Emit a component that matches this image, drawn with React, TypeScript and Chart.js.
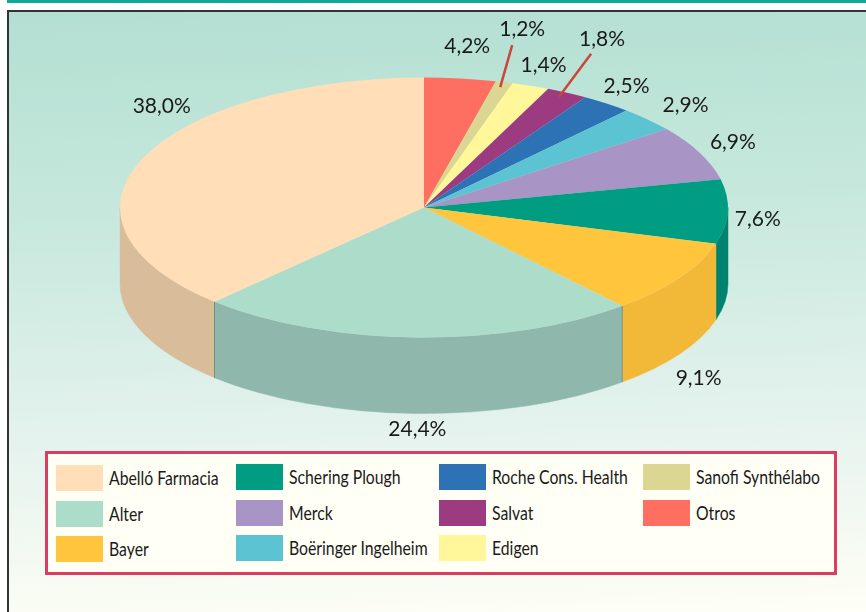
import React, { useEffect, useRef } from "react";
import { Chart, registerables } from "chart.js";

Chart.register(...registerables);

// Clockwise from 12 o'clock, as drawn in the reference.
const sliceNames = ["Otros", "Sanofi Synthélabo", "Edigen", "Salvat", "Roche Cons. Health", "Boëringer Ingelheim", "Merck", "Schering Plough", "Bayer", "Alter", "Abelló Farmacia"];
// Printed labels.
const percentLabels = ["4,2%", "1,2%", "1,4%", "1,8%", "2,5%", "2,9%", "6,9%", "7,6%", "9,1%", "24,4%", "38,0%"];
// Angular shares as actually drawn in the reference (it deviates slightly from the printed labels).
const drawnShares = [3.8, 0.9, 2.0, 2.2, 2.7, 3.1, 6.8, 8.0, 9.2, 23.4, 37.9];
const topColors = ["#FF6F61", "#DBD793", "#FFF79A", "#9D3B80", "#2E72B6", "#5CC3D3", "#A994C6", "#009D82", "#FFC53D", "#ACDCCA", "#FFDEB8"];
const sideColors = ["#D9584D", "#BDB97C", "#DDD584", "#7F2F68", "#255C93", "#4BA0AE", "#8B79A3", "#00836E", "#F2B838", "#8FB7AB", "#D9BD9B"];
// Label offset from the rim point at the middle of each slice.
const labelOffsetX = [7, 18, 13, 35, 20, 38, 33, 30, 19, 1, 20];
const labelOffsetY = [-32, -53, -21, -54, -17, -14, -11, 8, 100, 92, -53];
// Leader lines: slice, offsets from its rim point.
const leaderSlices = ["Sanofi Synthélabo", "Salvat"];
const leaderInner = [[-4, 5], [-8, 4]];
const leaderOuter = [[8, -37], [24, -39]];
// Legend is read column by column.
const legendColumns = [
  ["Abelló Farmacia", "Alter", "Bayer"],
  ["Schering Plough", "Merck", "Boëringer Ingelheim"],
  ["Roche Cons. Health", "Salvat", "Edigen"],
  ["Sanofi Synthélabo", "Otros"],
];
const legendColumnX = [56, 236, 439, 643];
const legendColumnTop = [465, 464, 464, 464];
const legendRowGap = [0, 36, 71];

const FLATTEN = 130 / 304;
const CENTER_Y = 207.5;
const DEPTH = 76;
const FONT = "Lato, sans-serif";

const pie3d = {
  id: "pie3d",
  beforeDatasetsDraw(chart: any) {
    const { ctx } = chart;
    const arcs = chart.getDatasetMeta(0).data;
    ctx.save();
    arcs.forEach((arc: any, i: number) => {
      const { x: cx, outerRadius: r, startAngle, endAngle } = arc;
      const a0 = Math.max(startAngle, 0);
      const a1 = Math.min(endAngle, Math.PI);
      if (a1 <= a0) return;
      const ry = r * FLATTEN;
      ctx.beginPath();
      ctx.ellipse(cx, CENTER_Y, r, ry, 0, a0, a1, false);
      ctx.ellipse(cx, CENTER_Y + DEPTH, r, ry, 0, a1, a0, true);
      ctx.closePath();
      ctx.fillStyle = sideColors[i];
      ctx.fill();
      ctx.strokeStyle = sideColors[i];
      ctx.lineWidth = 0.5;
      ctx.stroke();
    });
    // seams either side of the Alter wall
    const alter = arcs[sliceNames.indexOf("Alter")];
    [alter.startAngle, alter.endAngle].forEach((a: number) => {
      const x = alter.x + alter.outerRadius * Math.cos(a);
      const y = CENTER_Y + alter.outerRadius * FLATTEN * Math.sin(a);
      ctx.beginPath();
      ctx.moveTo(x, y);
      ctx.lineTo(x, y + DEPTH);
      ctx.strokeStyle = "#76907F";
      ctx.lineWidth = 1;
      ctx.stroke();
    });
    const first = arcs[0];
    ctx.translate(first.x, CENTER_Y);
    ctx.scale(1, FLATTEN);
    ctx.translate(-first.x, -first.y);
  },
  afterDatasetsDraw(chart: any) {
    const { ctx } = chart;
    ctx.restore();
    const arcs = chart.getDatasetMeta(0).data;
    const rim = (arc: any) => {
      const m = (arc.startAngle + arc.endAngle) / 2;
      return [arc.x + arc.outerRadius * Math.cos(m), CENTER_Y + arc.outerRadius * FLATTEN * Math.sin(m)];
    };
    ctx.save();
    leaderSlices.forEach((name, i) => {
      const [x, y] = rim(arcs[sliceNames.indexOf(name)]);
      ctx.beginPath();
      ctx.moveTo(x + leaderInner[i][0], y + leaderInner[i][1]);
      ctx.lineTo(x + leaderOuter[i][0], y + leaderOuter[i][1]);
      ctx.strokeStyle = "#C8473A";
      ctx.lineWidth = 2.5;
      ctx.stroke();
    });
    ctx.font = `21px ${FONT}`;
    ctx.fillStyle = "#1a1a1a";
    ctx.textAlign = "center";
    ctx.textBaseline = "middle";
    arcs.forEach((arc: any, i: number) => {
      const [x, y] = rim(arc);
      ctx.fillText(percentLabels[i], x + labelOffsetX[i], y + labelOffsetY[i]);
    });
    ctx.restore();
  },
};

export default function App() {
  const ref = useRef<HTMLCanvasElement>(null);
  useEffect(() => {
    const chart = new Chart(ref.current as HTMLCanvasElement, {
      type: "pie",
      data: {
        labels: sliceNames,
        datasets: [{ data: drawnShares, backgroundColor: topColors, borderWidth: 0, clip: false } as any],
      },
      options: {
        animation: false,
        responsive: false,
        events: [],
        layout: { padding: { left: 120, right: 138, top: 0, bottom: 4 } },
        plugins: { legend: { display: false }, tooltip: { enabled: false } },
      },
      plugins: [pie3d],
    });
    return () => chart.destroy();
  }, []);

  return (
    <div style={{ position: "absolute", left: 0, top: 0, width: 866, height: 612, overflow: "hidden", background: "#fff", fontFamily: FONT }}>
      <div style={{ position: "absolute", left: 7, top: 0, right: 0, height: 3, background: "#10A896" }} />
      <div style={{ position: "absolute", left: 7, top: 10, right: -4, bottom: -4, borderLeft: "2px solid #333", borderTop: "2px solid #333", background: "linear-gradient(178deg, #B3DFD2 0%, #C6E8DC 32%, #E6F3EE 70%, #FFFFF5 100%)" }} />
      <canvas ref={ref} width={866} height={612} style={{ position: "absolute", left: 0, top: 0, width: 866, height: 612 }} />
      <div style={{ position: "absolute", left: 45, top: 451, width: 786, height: 118, border: "3px solid #DC3C60", background: "#FFFFF5" }} />
      {legendColumns.map((col, c) =>
        col.map((name, r) => {
          const top = legendColumnTop[c] + legendRowGap[r];
          const color = topColors[sliceNames.indexOf(name)];
          return (
            <React.Fragment key={name}>
              <div style={{ position: "absolute", left: legendColumnX[c], top, width: 47, height: 26, background: color }} />
              <div style={{ position: "absolute", left: legendColumnX[c] + 53, top, lineHeight: "26px", fontSize: 19, color: "#1a1a1a", whiteSpace: "nowrap", transform: "scaleX(0.83)", transformOrigin: "left" }}>{name}</div>
            </React.Fragment>
          );
        })
      )}
    </div>
  );
}
